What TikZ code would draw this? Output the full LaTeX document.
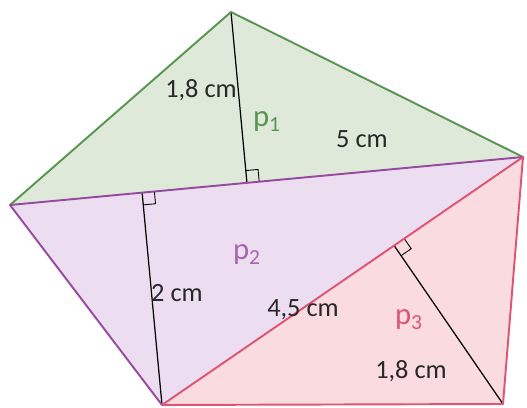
\documentclass[tikz,border=0pt]{standalone}
\usepackage{fontspec}
\setmainfont{Carlito}
\usetikzlibrary{calc}

\definecolor{greenfill}{RGB}{222,233,217}
\definecolor{greenline}{RGB}{88,150,80}
\definecolor{purplefill}{RGB}{236,222,240}
\definecolor{purpleline}{RGB}{150,75,160}
\definecolor{pinkfill}{RGB}{250,219,224}
\definecolor{pinkline}{RGB}{220,85,115}
\definecolor{labelgray}{RGB}{40,40,40}

\begin{document}
\begin{tikzpicture}[
        x=0.02cm, y=-0.02cm,
        side/.style={line width=1.1pt, line join=round},
        height/.style={line width=0.7pt, black},
        rmark/.style={line width=0.5pt, black},
        lbl/.style={font=\fontsize{15}{17}\selectfont, text=labelgray, inner sep=0pt},
        areaname/.style={font=\fontsize{17.5}{19}\selectfont, inner sep=0pt}
    ]
    \useasboundingbox (0,0) rectangle (527,408);

    % corners
    \coordinate (T) at (231,12);
    \coordinate (R) at (523,157);
    \coordinate (L) at (10,205);
    \coordinate (B1) at (162,405);
    \coordinate (B2) at (503,404);

    % feet of the heights
    \coordinate (h1) at ($(L)!(T)!(R)$);
    \coordinate (h2) at ($(L)!(B1)!(R)$);
    \coordinate (h3) at ($(B1)!(B2)!(R)$);

    % fills
    \fill[greenfill] (L) -- (T) -- (R) -- cycle;
    \fill[purplefill] (L) -- (R) -- (B1) -- cycle;
    \fill[pinkfill] (B1) -- (R) -- (B2) -- cycle;

    % heights
    \draw[height] (T) -- (h1);
    \draw[height] (B1) -- (h2);
    \draw[height] (B2) -- (h3);

    % right angle marks
    \foreach \f/\a/\b in {h1/R/T, h2/R/B1, h3/R/B2} {
        \coordinate (u) at ($(\f)!7pt!(\a)$);
        \coordinate (v) at ($(\f)!7pt!(\b)$);
        \draw[rmark] (u) -- ($(u)+(v)-(\f)$) -- (v);
    }

    % sides
    \draw[side, greenline] (L) -- (T) -- (R);
    \draw[side, purpleline] (R) -- (L) -- (B1);
    \draw[side, pinkline] (B1) -- (R) -- (B2) -- cycle;

    % labels
    \node[lbl] (l1) at (201,90) {1,8 cm};
    \node[lbl] (l2) at (362,139) {5 cm};
    \node[lbl] (l3) at (177,293) {2 cm};
    \node[lbl] (l4) at (303,310) {4,5 cm};
    \node[lbl] (l5) at (411,371) {1,8 cm};
    \node[areaname, text=greenline] (p1) at (267,122) {p\textsubscript{1}};
    \node[areaname, text=purpleline!85] (p2) at (247,255) {p\textsubscript{2}};
    \node[areaname, text=pinkline] (p3) at (409,320) {p\textsubscript{3}};

\end{tikzpicture}
\end{document}
